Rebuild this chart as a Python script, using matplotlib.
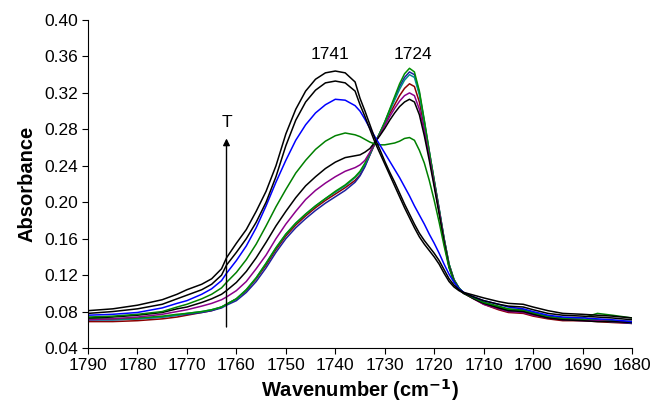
import matplotlib
matplotlib.use("Agg")
import matplotlib.pyplot as plt

plt.rcParams['font.family'] = ['Liberation Sans', 'DejaVu Sans']

wavenumber = [1790, 1785, 1780, 1775, 1772, 1770, 1767, 1765, 1763, 1762, 1760, 1758, 1756, 1754,
              1752, 1750, 1748, 1746, 1744, 1742, 1740, 1738, 1736, 1735, 1734, 1733, 1732, 1731,
              1730, 1729, 1728, 1727, 1726, 1725, 1724, 1723, 1722, 1721, 1720, 1719, 1718, 1717,
              1716, 1715, 1714, 1712, 1710, 1707, 1705, 1702, 1700, 1697, 1694, 1690, 1687, 1684, 1680]

red_1 = [.069, .069, .070, .072, .074, .076, .079, .081, .085, .088, .094, .103, .116, .131,
         .148, .163, .175, .185, .194, .202, .209, .216, .224, .230, .240, .252, .264, .275,
         .286, .297, .307, .317, .325, .330, .327, .310, .282, .252, .221, .190, .158, .130,
         .114, .105, .100, .094, .088, .082, .079, .078, .075, .072, .070, .070, .069, .068, .067]
navy_2 = [.071, .071, .072, .074, .076, .077, .079, .081, .084, .087, .092, .101, .113, .128,
          .145, .160, .172, .182, .191, .199, .206, .213, .222, .229, .239, .252, .265, .276,
          .288, .301, .314, .327, .337, .343, .340, .320, .289, .256, .224, .193, .160, .132,
          .115, .106, .100, .095, .090, .085, .082, .081, .078, .074, .072, .071, .070, .069, .067]
teal_3 = [.071, .071, .072, .074, .076, .078, .080, .082, .085, .088, .094, .104, .117, .133,
          .150, .165, .177, .187, .196, .204, .211, .218, .227, .233, .242, .253, .265, .276,
          .287, .300, .312, .324, .334, .340, .337, .318, .287, .255, .223, .192, .160, .132,
          .115, .106, .100, .095, .090, .085, .082, .081, .078, .074, .072, .071, .070, .069, .068]
green_4 = [.072, .072, .073, .075, .077, .078, .080, .082, .085, .088, .094, .104, .117, .133,
           .150, .165, .177, .187, .196, .204, .212, .219, .228, .234, .243, .254, .265, .276,
           .288, .302, .316, .330, .341, .347, .343, .322, .290, .256, .224, .192, .160, .132,
           .115, .106, .100, .095, .090, .085, .082, .081, .078, .074, .072, .071, .071, .070, .069]
purple_5 = [.071, .072, .074, .077, .080, .082, .086, .089, .093, .096, .103, .113, .127, .142,
            .160, .176, .190, .203, .213, .221, .228, .234, .238, .241, .246, .255, .265, .274,
            .284, .294, .303, .311, .317, .320, .317, .302, .278, .250, .220, .190, .158, .130,
            .114, .105, .100, .094, .088, .083, .080, .079, .076, .073, .071, .070, .070, .069, .068]
black_6 = [.073, .074, .076, .079, .083, .085, .090, .094, .099, .103, .112, .124, .139, .156,
           .174, .190, .205, .218, .228, .237, .244, .249, .251, .252, .255, .259, .266, .273,
           .281, .290, .298, .305, .310, .313, .310, .296, .273, .246, .217, .187, .156, .129,
           .113, .105, .100, .094, .089, .084, .081, .080, .077, .073, .071, .070, .069, .069, .068]
green_7 = [.074, .075, .077, .080, .085, .088, .094, .099, .106, .112, .123, .137, .154, .174,
           .195, .214, .232, .246, .258, .267, .273, .276, .274, .272, .269, .266, .264, .263,
           .263, .264, .265, .267, .270, .271, .268, .257, .243, .224, .202, .178, .152, .128,
           .113, .105, .100, .095, .090, .086, .083, .082, .079, .075, .073, .073, .078, .076, .073]
blue_8 = [.076, .077, .079, .084, .089, .092, .099, .105, .114, .122, .136, .152, .172, .196,
          .222, .246, .268, .285, .298, .307, .313, .312, .306, .300, .291, .281, .272, .263,
          .254, .245, .236, .227, .217, .207, .196, .186, .176, .165, .155, .144, .132, .121,
          .112, .105, .101, .096, .092, .088, .085, .083, .080, .076, .074, .073, .072, .071, .069]
black_9 = [.078, .080, .083, .088, .094, .098, .104, .110, .120, .131, .145, .160, .178, .200,
           .228, .262, .290, .310, .323, .331, .333, .331, .322, .307, .294, .280, .266, .254,
           .242, .230, .218, .206, .194, .183, .172, .162, .154, .147, .140, .132, .122, .113,
           .107, .103, .100, .096, .092, .088, .086, .085, .082, .078, .076, .075, .074, .073, .071]
black_10 = [.081, .083, .087, .093, .099, .104, .110, .116, .127, .139, .155, .170, .190, .212,
            .240, .275, .302, .322, .335, .342, .344, .342, .332, .314, .300, .285, .270, .258,
            .245, .233, .222, .210, .198, .187, .176, .166, .158, .151, .144, .136, .126, .116,
            .109, .104, .101, .098, .095, .091, .089, .088, .085, .081, .078, .077, .076, .075, .073]

series = [
    (red_1, '#8B0000'),
    (navy_2, '#1F1F9F'),
    (teal_3, '#008B8B'),
    (green_4, '#009000'),
    (purple_5, '#8B008B'),
    (black_6, '#000000'),
    (green_7, '#008000'),
    (blue_8, '#0000FF'),
    (black_9, '#000000'),
    (black_10, '#000000'),
]

y_ticks = [0.04, 0.08, 0.12, 0.16, 0.20, 0.24, 0.28, 0.32, 0.36, 0.40]
x_ticks = [1790, 1780, 1770, 1760, 1750, 1740, 1730, 1720, 1710, 1700, 1690, 1680]

fig = plt.figure(figsize=(6.54, 4.05), dpi=100)
ax = fig.add_axes([0.1346, 0.1407, 0.8318, 0.8099])

for vals, col in series:
    ax.plot(wavenumber, vals, color=col, lw=1.1)

ax.set_xlim(1790, 1680)
ax.set_ylim(0.04, 0.40)
ax.set_xticks(x_ticks)
ax.set_yticks(y_ticks)
ax.set_yticklabels([f"{v:.2f}" for v in y_ticks])
ax.tick_params(direction='out', length=4, labelsize=12.5, width=0.8, pad=3)
for s in ['top', 'right']:
    ax.spines[s].set_visible(False)

ax.set_xlabel('Wavenumber (cm$^{\\mathbf{-1}}$)', fontsize=14.5, fontweight='bold', labelpad=3)
ax.set_ylabel('Absorbance', fontsize=14.5, fontweight='bold', labelpad=6)

ax.text(1741, 0.362, '1741', ha='center', va='center', fontsize=12.5)
ax.text(1724.3, 0.362, '1724', ha='center', va='center', fontsize=12.5)
ax.text(1762, 0.288, 'T', ha='center', va='center', fontsize=12.5)
ax.annotate('', xy=(1762, 0.273), xytext=(1762, 0.060),
            arrowprops=dict(arrowstyle='-|>', color='black', lw=1.0, mutation_scale=10))

fig.savefig('out.png', dpi=100)
